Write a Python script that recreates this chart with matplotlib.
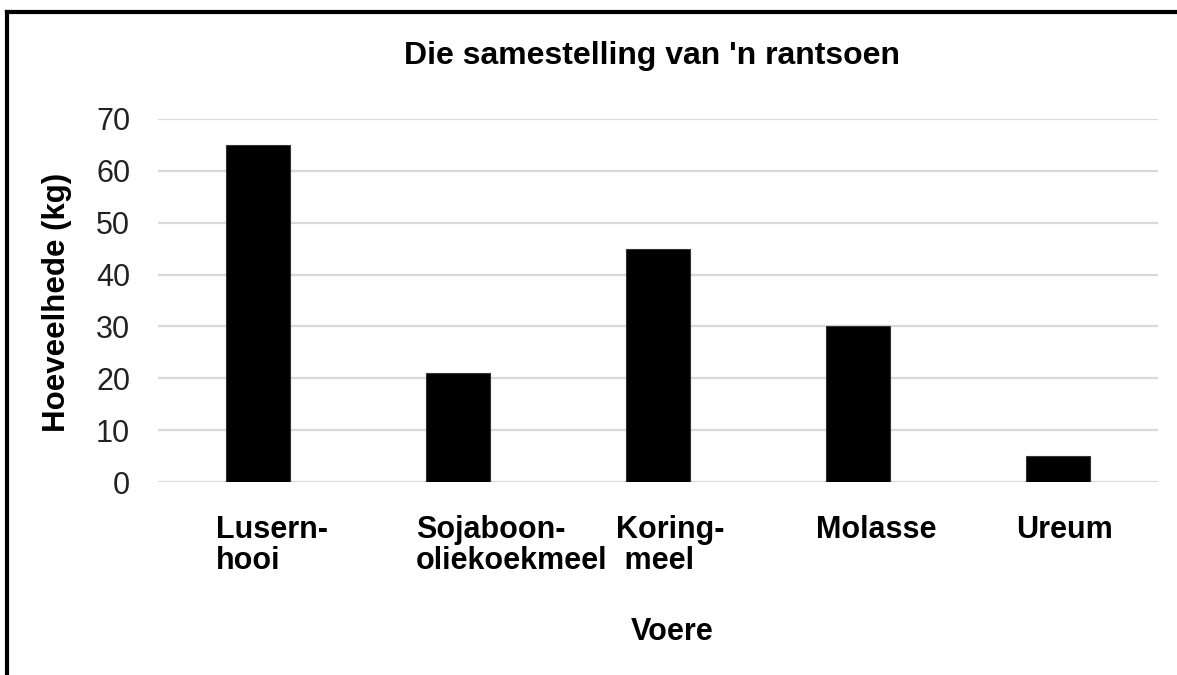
import matplotlib
matplotlib.use("Agg")
import matplotlib.pyplot as plt
import matplotlib.transforms as mtransforms
from matplotlib.lines import Line2D
import numpy as np

plt.rcParams['font.family'] = ['Liberation Sans', 'DejaVu Sans']

categories = ["Lusern-\nhooi", "Sojaboon-\noliekoekmeel", "Koring-\n meel", "Molasse", "Ureum"]
values = [65, 21, 45, 30, 5]
yticks = [0, 10, 20, 30, 40, 50, 60, 70]
title = "Die samestelling van 'n rantsoen"
ylabel = "Hoeveelhede (kg)"
xlabel = "Voere"

W, H = 1177, 675
fig = plt.figure(figsize=(W / 100, H / 100), dpi=100)
ax = fig.add_axes([158 / W, 1 - 482 / H, 1000 / W, (482 - 119) / H])

x = np.arange(len(categories))
ax.bar(x, values, width=0.32, color='black', edgecolor='#333333', linewidth=0.8, zorder=3)

ax.set_xlim(-0.5, len(categories) - 0.5)
ax.set_ylim(0, 70)
ax.set_yticks(yticks)
ax.set_yticklabels([str(v) for v in yticks], fontsize=22, color='#222222')
ax.tick_params(axis='y', length=0, pad=20)
ax.grid(axis='y', color='#d9d9d9', linewidth=1.6, zorder=0)
ax.set_axisbelow(True)
for s in ax.spines.values():
    s.set_visible(False)

ax.set_xticks(x)
ax.set_xticklabels(categories, fontsize=22, fontweight='bold', ha='left',
                   multialignment='left', linespacing=1.05)
ax.tick_params(axis='x', length=0, pad=24)
offset = mtransforms.ScaledTranslation(-42 / 100, 0, fig.dpi_scale_trans)
for lbl in ax.get_xticklabels():
    lbl.set_transform(lbl.get_transform() + offset)

fig.text(57 / W, 1 - 302 / H, ylabel, rotation=90, fontsize=22.5, fontweight='bold',
         ha='center', va='center')
fig.text(652 / W, 1 - 56 / H, title, fontsize=23, fontweight='bold', ha='center', va='center')
fig.text(672 / W, 1 - 632 / H, xlabel, fontsize=22, fontweight='bold', ha='center', va='center')

# frame lines (left and top)
fig.add_artist(Line2D([7 / W, 7 / W], [0, 1 - 12 / H], transform=fig.transFigure,
                      color='black', linewidth=3, solid_capstyle='projecting'))
fig.add_artist(Line2D([7 / W, 1], [1 - 12 / H, 1 - 12 / H], transform=fig.transFigure,
                      color='black', linewidth=3, solid_capstyle='projecting'))

fig.savefig("out.png", dpi=100)
